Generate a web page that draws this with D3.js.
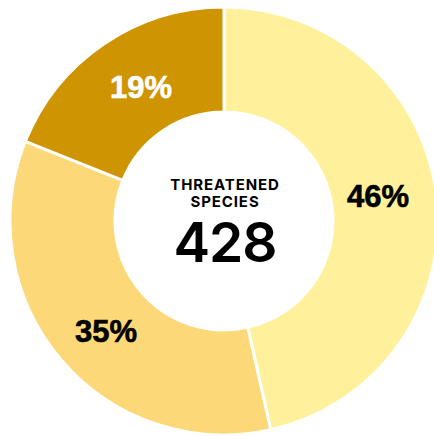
<!DOCTYPE html>
<html lang="en">
<head>
    <meta charset="UTF-8">
    <title>Threatened species</title>
    <script src="https://d3js.org/d3.v7.min.js"></script>
    <style>
        html, body { margin: 0; padding: 0; background: #fff; }
        #chart { width: 434px; height: 436px; }
    </style>
</head>
<body>
    <div id="chart"></div>
    <script>
        // data
        const categories = ["Group A", "Group B", "Group C"];
        const counts = [199, 148, 81];
        const pctLabels = ["46%", "35%", "19%"];
        const colors = ["#FFF09B", "#FDD878", "#CE9402"];
        const labelColors = ["#000", "#000", "#fff"];
        const total = 428;

        const width = 434, height = 436;
        const cx = 224, cy = 221;
        const outerR = 214, innerR = 109;

        const svg = d3.select("#chart")
            .append("svg")
            .attr("width", width)
            .attr("height", height);

        const g = svg.append("g")
            .attr("transform", `translate(${cx},${cy})`);

        const pie = d3.pie().sort(null).value(d => d);
        const arcs = pie(counts);

        const arc = d3.arc().innerRadius(innerR).outerRadius(outerR);

        g.selectAll("path")
            .data(arcs)
            .enter().append("path")
            .attr("d", arc)
            .attr("fill", (d, i) => colors[i])
            .attr("stroke", "#fff")
            .attr("stroke-width", 3);

        // slice labels
        const labelPos = [[154, -14], [-118, 121], [-83, -123]];
        g.selectAll("text.pct")
            .data(arcs)
            .enter().append("text")
            .attr("class", "pct")
            .attr("x", (d, i) => labelPos[i][0])
            .attr("y", (d, i) => labelPos[i][1])
            .attr("text-anchor", "middle")
            .attr("font-family", "Liberation Sans, Arial, sans-serif")
            .attr("font-weight", "bold")
            .attr("font-size", 31)
            .attr("stroke", (d, i) => labelColors[i])
            .attr("stroke-width", 0.6)
            .attr("fill", (d, i) => labelColors[i])
            .text((d, i) => pctLabels[i]);

        // centre text
        const centre = g.append("g").attr("font-family", "Inter, 'Open Sans', sans-serif").attr("fill", "#000");
        centre.append("text")
            .attr("x", 1).attr("y", -31)
            .attr("text-anchor", "middle")
            .attr("font-weight", 700)
            .attr("font-size", 15)
            .attr("letter-spacing", 0.9)
            .text("THREATENED");
        centre.append("text")
            .attr("x", 1).attr("y", -14)
            .attr("text-anchor", "middle")
            .attr("font-weight", 700)
            .attr("font-size", 15)
            .attr("letter-spacing", 0.9)
            .text("SPECIES");
        centre.append("text")
            .attr("x", 1).attr("y", 41)
            .attr("text-anchor", "middle")
            .attr("font-weight", 600)
            .attr("font-size", 55)
            .attr("letter-spacing", -1)
            .text(total);
    </script>
</body>
</html>
